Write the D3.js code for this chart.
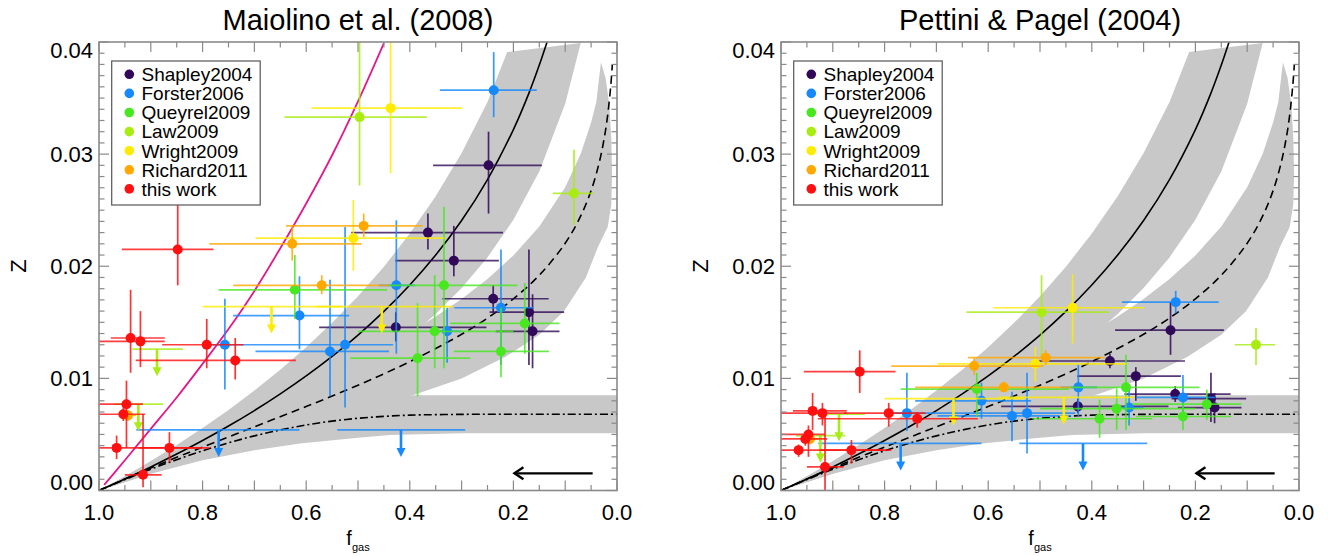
<!DOCTYPE html>
<html>
<head>
<meta charset="utf-8">
<script src="https://cdn.jsdelivr.net/npm/d3@7"></script>
<style>
  body { margin: 0; background: #fff; }
  svg { display: block; font-family: "Liberation Sans", Arial, Helvetica, sans-serif; }
</style>
</head>
<body>
<svg id="chart" width="1328" height="556"></svg>
<script>
// ---- model curves (f_gas, Z) ----
let solidF = [1, 0.95, 0.9, 0.85, 0.8, 0.75, 0.7, 0.65, 0.6, 0.55, 0.5, 0.45, 0.4, 0.35, 0.3, 0.25, 0.2, 0.17, 0.15, 0.135];
let solidZ = [0, 0.00103, 0.0021, 0.00325, 0.00446, 0.00575, 0.00713, 0.00862, 0.01022, 0.01196, 0.01386, 0.01597, 0.01833, 0.021, 0.02408, 0.02773, 0.03219, 0.03544, 0.03794, 0.04];
let dashF = [1, 0.95, 0.9, 0.85, 0.8, 0.7, 0.6, 0.5, 0.4, 0.3, 0.25, 0.2, 0.15, 0.1, 0.07, 0.05, 0.035, 0.025, 0.018, 0.012, 0.009];
let dashZ = [0, 0.00103, 0.00201, 0.00296, 0.00387, 0.00568, 0.00749, 0.00939, 0.01149, 0.01393, 0.01538, 0.01709, 0.0192, 0.02205, 0.02449, 0.02675, 0.02912, 0.03133, 0.03348, 0.03612, 0.03798];
let dotF = [1, 0.95, 0.9, 0.85, 0.8, 0.75, 0.7, 0.65, 0.6, 0.55, 0.5, 0.45, 0.4, 0.3, 0.2, 0.1, 0];
let dotZ = [0, 0.00097, 0.0019, 0.00275, 0.00354, 0.00425, 0.00487, 0.0054, 0.00584, 0.00619, 0.00644, 0.00661, 0.00672, 0.00679, 0.0068, 0.0068, 0.0068];
let magentaF = [0.99, 0.95, 0.9, 0.85, 0.8, 0.75, 0.7, 0.65, 0.6, 0.55, 0.5, 0.45];
let magentaZ = [0.0005, 0.0027, 0.0055, 0.0083, 0.0113, 0.0144, 0.0178, 0.0216, 0.0256, 0.0299, 0.0347, 0.0399];

// ---- grey model ranges, polygon vertices [f_gas, Z] ----
let bandA = [[1,0],[0.95,0.00128],[0.9,0.00263],[0.85,0.00406],[0.8,0.00558],[0.75,0.00719],[0.7,0.00892],[0.65,0.01077],[0.6,0.01277],[0.55,0.01495],[0.5,0.01733],[0.45,0.01996],[0.4,0.02291],[0.35,0.02625],[0.3,0.0301],[0.25,0.03466],[0.212,0.0391],
  [0.07,0.0399],[0.1,0.0345],[0.15,0.02846],[0.2,0.02414],[0.25,0.02079],[0.3,0.01806],[0.35,0.01575],[0.4,0.01374],[0.5,0.0104],[0.6,0.00766],[0.7,0.00535],[0.8,0.00335],[0.9,0.00158],[1,0]];
let bandB = [[1,0],[0.9,0.00247],[0.8,0.00475],[0.7,0.00696],[0.6,0.00919],[0.5,0.01152],[0.45,0.01277],[0.4,0.01409],[0.35,0.01552],[0.3,0.01709],[0.25,0.01887],[0.2,0.02096],[0.15,0.02355],[0.1,0.02705],[0.07,0.03004],[0.05,0.03282],[0.04,0.03464],[0.031,0.0382],
  [0.022,0.0368],[0.015,0.0345],[0.011,0.0315],[0.0095,0.0283],[0.011,0.0255],[0.018,0.0235],[0.037,0.0217],[0.06,0.019],[0.102,0.016],[0.15,0.0139],[0.216,0.0119],[0.3,0.01],[0.387,0.0086],[0.5,0.0071],[0.6,0.0056],[0.7,0.0043],[0.8,0.0029],[0.9,0.0015],[1,0]];
let bandC = [[1,0],[0.9,0.0024],[0.8,0.0045],[0.7,0.0062],[0.6,0.0073],[0.5,0.0081],[0.41,0.0085],[0,0.0085],
  [0,0.0051],[0.3,0.0051],[0.438,0.00495],[0.5,0.0047],[0.612,0.0042],[0.7,0.0036],[0.8,0.0027],[0.9,0.0015],[1,0]];

// ---- data rows: [f, f_hi, f_lo, Z_M08, lo, hi, Z_PP04, lo, hi] ----
let shapley = [
  [0.365, 0.513, 0.220, 0.0230, 0.0215, 0.0247, 0.01155, 0.0109, 0.0122],
  [0.315, 0.428, 0.228, 0.0205, 0.0191, 0.0236, 0.0102, 0.0080, 0.0110],
  [0.248, 0.355, 0.145, 0.0290, 0.0247, 0.0320, 0.0143, 0.0121, 0.0168],
  [0.239, 0.337, 0.132, 0.0171, 0.0159, 0.0183, 0.0086, 0.0079, 0.0093],
  [0.170, 0.246, 0.102, 0.0159, 0.0112, 0.0215, 0.0082, 0.0061, 0.0105],
  [0.163, 0.234, 0.111, 0.0142, 0.0109, 0.0175, 0.0074, 0.0060, 0.0087],
  [0.427, 0.575, 0.252, 0.01455, 0.0133, 0.0159, 0.0075, 0.0069, 0.0082]
];
let forster = [
  [0.238, 0.342, 0.155, 0.0357, 0.0333, 0.0391, 0.0168, 0.0158, 0.0178],
  [0.426, 0.460, 0.390, 0.0183, 0.0122, 0.0241, 0.0092, 0.0066, 0.0112],
  [0.224, 0.314, 0.161, 0.0163, 0.0112, 0.0215, 0.0083, 0.0064, 0.0103],
  [0.328, 0.360, 0.300, 0.0142, 0.0114, 0.0163, 0.0074, 0.0058, 0.0091],
  [0.613, 0.741, 0.517, 0.0156, 0.0126, 0.0191, 0.0080, 0.0064, 0.0096],
  [0.757, 0.790, 0.720, 0.0130, 0.0090, 0.0171, 0.0069, 0.0053, 0.0105],
  [0.525, 0.720, 0.432, 0.0130, 0.0074, 0.0235, 0.0069, 0.0033, 0.0105],
  [0.554, 0.698, 0.440, 0.0124, 0.0084, 0.0188, 0.00665, 0.0044, 0.0088]
];
let queyrel = [
  [0.622, 0.769, 0.444, 0.0179, 0.0153, 0.0210, 0.00905, 0.0066, 0.0105],
  [0.334, 0.444, 0.192, 0.0183, 0.0109, 0.0253, 0.0092, 0.0054, 0.0121],
  [0.352, 0.500, 0.200, 0.0142, 0.0109, 0.0192, 0.0073, 0.0054, 0.0091],
  [0.385, 0.515, 0.283, 0.0118, 0.0084, 0.0167, 0.0064, 0.0047, 0.0081],
  [0.178, 0.322, 0.111, 0.0149, 0.0122, 0.0185, 0.0077, 0.0063, 0.0090],
  [0.224, 0.315, 0.131, 0.0124, 0.0101, 0.0163, 0.0066, 0.0054, 0.0078]
];
let law = [
  [0.497, 0.642, 0.367, 0.0333, 0.0272, 0.0420, 0.0159, 0.0118, 0.0192],
  [0.083, 0.124, 0.046, 0.0265, 0.0237, 0.0304, 0.0130, 0.0112, 0.0145]
];
let wright = [
  [0.437, 0.590, 0.299, 0.0341, 0.0283, 0.0420, 0.0163, 0.0131, 0.0193],
  [0.509, 0.698, 0.333, 0.0225, 0.0196, 0.0259, 0.0113, 0.0097, 0.0128]
];
let richard = [
  [0.489, 0.639, 0.375, 0.0236, 0.0226, 0.0247, 0.01185, 0.0112, 0.0125],
  [0.627, 0.787, 0.493, 0.0220, 0.0205, 0.0235, 0.0111, 0.0103, 0.0118],
  [0.570, 0.741, 0.440, 0.0183, 0.0175, 0.0192, 0.0092, 0.0088, 0.0097],
  [0.944, 0.960, 0.928, 0.0067, 0.0062, 0.0072, 0.0046, 0.0042, 0.0049]
];
let thisWork = [
  [0.848, 0.956, 0.779, 0.0215, 0.0183, 0.0259, 0.0106, 0.0087, 0.0125],
  [0.939, 0.977, 0.873, 0.0136, 0.0105, 0.0179, 0.0071, 0.0054, 0.0087],
  [0.920, 1.000, 0.873, 0.0133, 0.0110, 0.0160, 0.0069, 0.0058, 0.0078],
  [0.792, 0.878, 0.721, 0.0130, 0.0109, 0.0153, 0.0069, 0.0057, 0.0078],
  [0.737, 0.929, 0.620, 0.0116, 0.0099, 0.0136, 0.0064, 0.0056, 0.0070],
  [0.947, 1.000, 0.915, 0.0077, 0.0038, 0.0098, 0.0050, 0.0030, 0.0058],
  [0.953, 1.000, 0.911, 0.0068, 0.0062, 0.0074, 0.0046, 0.0040, 0.0050],
  [0.966, 1.000, 0.787, 0.0038, 0.0028, 0.0049, 0.0036, 0.0030, 0.0041],
  [0.864, 0.924, 0.802, 0.0038, 0.0025, 0.0052, 0.0036, 0.0024, 0.0045],
  [0.915, 0.950, 0.879, 0.0014, 0.0003, 0.0068, 0.0021, 0.0000, 0.0071]
];
// upper limits: [f, f_hi, f_lo, Z_M08, Z_PP04]
let forsterLim = [[0.769, 0.928, 0.613, 0.0054, 0.0042], [0.417, 0.540, 0.293, 0.0054, 0.0042]];
let lawLim = [[0.888, 0.936, 0.838, 0.0126, 0.0068], [0.924, 0.971, 0.876, 0.0077, 0.0049]];
let wrightLim = [[0.667, 0.800, 0.530, 0.0164, 0.0082], [0.454, 0.580, 0.318, 0.0164, 0.0083]];

let seriesNames = ["Shapley2004", "Forster2006", "Queyrel2009", "Law2009", "Wright2009", "Richard2011", "this work"];
let seriesColors = ["#300a58", "#1689fc", "#48e820", "#a8ec12", "#fdec00", "#ffa800", "#ff1010"];
let seriesRows = [shapley, forster, queyrel, law, wright, richard, thisWork];
let seriesLims = [[], forsterLim, [], lawLim, wrightLim, [], []];

let xTickLabels = ["1.0", "0.8", "0.6", "0.4", "0.2", "0.0"];
let yTickLabels = ["0.00", "0.01", "0.02", "0.03", "0.04"];
let arrowF = [0.047, 0.198], arrowZ = 0.00153;

let panels = [
  {title: "Maiolino et al. (2008)", left: 99, zi: 3, li: 3, magenta: true, id: "m"},
  {title: "Pettini & Pagel (2004)", left: 781, zi: 6, li: 4, magenta: false, id: "p"}
];

let svg = d3.select("#chart");
let W = 518, plotTop = 42, plotBottom = 490.5;
let axisColor = "#8a8a8a";

panels.forEach(function(p) {
  let x = d3.scaleLinear().domain([1, 0]).range([p.left, p.left + W]);
  let y = d3.scaleLinear().domain([0, 0.04]).range([plotBottom, plotTop]);

  svg.append("clipPath").attr("id", "clip-" + p.id)
    .append("rect").attr("x", p.left).attr("y", plotTop).attr("width", W).attr("height", plotBottom - plotTop);
  let plot = svg.append("g").attr("clip-path", "url(#clip-" + p.id + ")");

  // grey ranges
  let poly = d3.line().x(d => x(d[0])).y(d => y(d[1]));
  [bandA, bandB, bandC].forEach(b => plot.append("path").attr("d", poly(b) + "Z").attr("fill", "#c8c8c8"));

  // model curves
  let curve = d3.line().x(d => x(d[0])).y(d => y(d[1])).curve(d3.curveCatmullRom.alpha(0.5));
  plot.append("path").attr("d", curve(d3.zip(solidF, solidZ)))
    .attr("fill", "none").attr("stroke", "#000").attr("stroke-width", 1.6);
  plot.append("path").attr("d", curve(d3.zip(dashF, dashZ)))
    .attr("fill", "none").attr("stroke", "#000").attr("stroke-width", 1.6).attr("stroke-dasharray", "8,5");
  plot.append("path").attr("d", curve(d3.zip(dotF, dotZ)))
    .attr("fill", "none").attr("stroke", "#000").attr("stroke-width", 1.6).attr("stroke-dasharray", "8,3,2,3");
  if (p.magenta) {
    plot.append("path").attr("d", curve(d3.zip(magentaF, magentaZ)))
      .attr("fill", "none").attr("stroke", "#e3188c").attr("stroke-width", 1.8);
  }

  // data
  seriesRows.forEach(function(rows, s) {
    let col = seriesColors[s];
    let g = plot.append("g");
    rows.forEach(function(r) {
      let z = r[p.zi], zlo = r[p.zi + 1], zhi = r[p.zi + 2];
      g.append("line").attr("x1", x(r[1])).attr("x2", x(r[2])).attr("y1", y(z)).attr("y2", y(z))
        .attr("stroke", col).attr("stroke-width", 1.7).attr("opacity", 0.8);
      g.append("line").attr("x1", x(r[0])).attr("x2", x(r[0])).attr("y1", y(zlo)).attr("y2", y(zhi))
        .attr("stroke", col).attr("stroke-width", 1.7).attr("opacity", 0.85);
    });
    seriesLims[s].forEach(function(r) {
      let z = r[p.li], xx = x(r[0]), yy = y(z);
      g.append("line").attr("x1", x(r[1])).attr("x2", x(r[2])).attr("y1", yy).attr("y2", yy)
        .attr("stroke", col).attr("stroke-width", 1.7).attr("opacity", 0.8);
      g.append("line").attr("x1", xx).attr("x2", xx).attr("y1", yy).attr("y2", yy + 20)
        .attr("stroke", col).attr("stroke-width", 2.6);
      g.append("path").attr("d", `M${xx - 4.5},${yy + 18}L${xx + 4.5},${yy + 18}L${xx},${yy + 27}Z`)
        .attr("fill", col);
    });
    rows.forEach(function(r) {
      g.append("circle").attr("cx", x(r[0])).attr("cy", y(r[p.zi])).attr("r", 5).attr("fill", col);
    });
  });

  // direction arrow
  let ay = y(arrowZ);
  svg.append("line").attr("x1", x(arrowF[0])).attr("x2", x(arrowF[1])).attr("y1", ay).attr("y2", ay)
    .attr("stroke", "#000").attr("stroke-width", 2.4);
  svg.append("path").attr("d", `M${x(arrowF[1]) + 9},${ay - 6}L${x(arrowF[1])},${ay}L${x(arrowF[1]) + 9},${ay + 6}`)
    .attr("fill", "none").attr("stroke", "#000").attr("stroke-width", 2.4);

  // frame and ticks on all sides
  let axes = svg.append("g").attr("stroke", axisColor);
  axes.append("rect").attr("x", p.left).attr("y", plotTop).attr("width", W).attr("height", plotBottom - plotTop)
    .attr("fill", "none").attr("stroke-width", 1.6);
  d3.range(0, 21).forEach(function(i) {
    let v = i * 0.05, len = (i % 2 === 0) ? 10 : 5.5, xx = x(v);
    axes.append("line").attr("x1", xx).attr("x2", xx).attr("y1", plotBottom).attr("y2", plotBottom - len).attr("stroke-width", 1.2);
    axes.append("line").attr("x1", xx).attr("x2", xx).attr("y1", plotTop).attr("y2", plotTop + len).attr("stroke-width", 1.2);
  });
  d3.range(0, 41).forEach(function(i) {
    let v = i * 0.001, len = (i % 10 === 0) ? 10 : 5.5, yy = y(v);
    axes.append("line").attr("x1", p.left).attr("x2", p.left + len).attr("y1", yy).attr("y2", yy).attr("stroke-width", 1.2);
    axes.append("line").attr("x1", p.left + W).attr("x2", p.left + W - len).attr("y1", yy).attr("y2", yy).attr("stroke-width", 1.2);
  });

  // tick labels
  xTickLabels.forEach(function(t) {
    svg.append("text").attr("x", x(+t)).attr("y", 519.5).attr("text-anchor", "middle")
      .attr("font-size", 22).text(t);
  });
  yTickLabels.forEach(function(t) {
    let yy = Math.max(plotTop + 8, Math.min(plotBottom - 8.5, y(+t)));
    svg.append("text").attr("x", p.left - 6).attr("y", yy).attr("dy", "0.36em").attr("text-anchor", "end")
      .attr("font-size", 22).text(t);
  });

  // titles
  svg.append("text").attr("x", p.left + W / 2).attr("y", 30).attr("text-anchor", "middle")
    .attr("font-size", 29).text(p.title);
  let xl = svg.append("text").attr("x", p.left + W / 2).attr("y", 545).attr("text-anchor", "middle").attr("font-size", 20);
  xl.append("tspan").text("f");
  xl.append("tspan").attr("font-size", 11).attr("dy", 6).text("gas");
  svg.append("text").attr("transform", `translate(${p.left - 81},266) rotate(-90)`)
    .attr("text-anchor", "middle").attr("dy", "0.35em").attr("font-size", 22).text("Z");

  // legend
  let lg = svg.append("g");
  lg.append("rect").attr("x", p.left + 12.7).attr("y", 61).attr("width", 148.5).attr("height", 144)
    .attr("fill", "#fff").attr("stroke", "#555").attr("stroke-width", 1.2);
  seriesNames.forEach(function(n, i) {
    let yy = 74.3 + i * 19.1;
    lg.append("circle").attr("cx", p.left + 30.3).attr("cy", yy).attr("r", 4.8).attr("fill", seriesColors[i]);
    lg.append("text").attr("x", p.left + 42.5).attr("y", yy).attr("dy", "0.36em").attr("font-size", 19).text(n);
  });
});
</script>
</body>
</html>
